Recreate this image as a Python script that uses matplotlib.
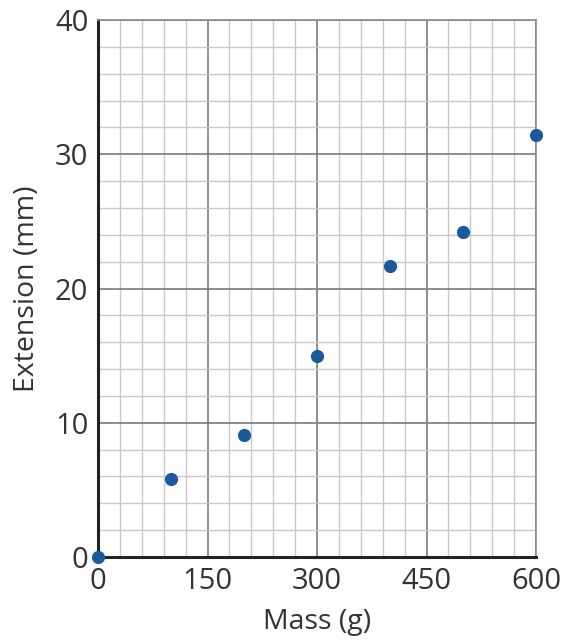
import matplotlib
matplotlib.use("Agg")
import matplotlib.pyplot as plt
from matplotlib.ticker import MultipleLocator

mass = [0, 100, 200, 300, 400, 500, 600]
extension = [0.0, 5.8, 9.1, 15.0, 21.7, 24.2, 31.4]
x_ticks = [0, 150, 300, 450, 600]
y_ticks = [0, 10, 20, 30, 40]

plt.rcParams['font.family'] = ['Open Sans', 'DejaVu Sans']

fig = plt.figure(figsize=(5.61, 6.41), dpi=100)
ax = fig.add_axes([98/561, 84/641, 438/561, 537/641])
ax.set_xlim(0, 600)
ax.set_ylim(0, 40)
ax.set_xticks(x_ticks)
ax.set_yticks(y_ticks)
ax.xaxis.set_minor_locator(MultipleLocator(30))
ax.yaxis.set_minor_locator(MultipleLocator(2))
ax.grid(which='minor', color='#c8c8c8', linewidth=1.0)
ax.grid(which='major', color='#7a7a7a', linewidth=1.2)
ax.set_axisbelow(True)
for s in ['left', 'bottom']:
    ax.spines[s].set_color('#222222')
    ax.spines[s].set_linewidth(2.2)
for s in ['top', 'right']:
    ax.spines[s].set_color('#8a8a8a')
    ax.spines[s].set_linewidth(1.2)
ax.tick_params(which='both', length=0, labelsize=21, colors='#333333')
ax.tick_params(axis='x', pad=7)
ax.tick_params(axis='y', pad=7)
ax.set_xlabel('Mass (g)', fontsize=20.5, color='#333333', labelpad=9)
ax.set_ylabel('Extension (mm)', fontsize=20.5, color='#333333', labelpad=10)
ax.scatter(mass, extension, s=90, color='#1a5a9c', zorder=5, clip_on=False, linewidths=0)
fig.savefig('out.png', dpi=100)
